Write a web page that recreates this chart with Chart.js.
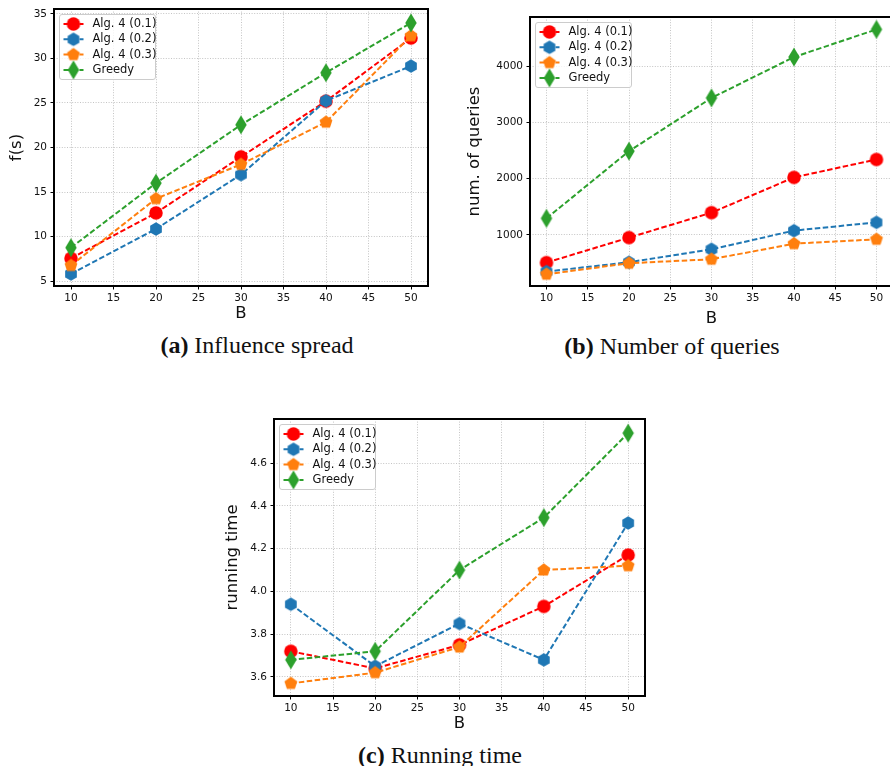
<!DOCTYPE html>
<html>
<head>
<meta charset="utf-8">
<script src="https://cdn.jsdelivr.net/npm/chart.js@4.4.0/dist/chart.umd.min.js"></script>
<style>
  html, body { margin: 0; padding: 0; background: #fff; overflow: hidden; width: 890px; height: 766px; }
  .box { position: absolute; }
  .cap { position: absolute; font-family: "Liberation Serif", serif; font-size: 24px; color: #111;
         white-space: nowrap; transform: translate(-50%, -50%); }
</style>
</head>
<body>
<div class="box" id="boxA" style="left:0px;top:0px;width:445px;height:331px"><canvas id="chartA"></canvas></div>
<div class="box" id="boxB" style="left:445px;top:0px;width:460px;height:331px"><canvas id="chartB"></canvas></div>
<div class="box" id="boxC" style="left:220px;top:400px;width:440px;height:341px"><canvas id="chartC"></canvas></div>
<div class="cap" style="left:257px;top:345px"><b>(a)</b> Influence spread</div>
<div class="cap" style="left:672px;top:346px"><b>(b)</b> Number of queries</div>
<div class="cap" style="left:440px;top:755px"><b>(c)</b> Running time</div>

<script>
// budgets on the x axis
const budgets = [10, 20, 30, 40, 50];
const xTicks = [10, 15, 20, 25, 30, 35, 40, 45, 50];
const seriesLabels = ['Alg. 4 (0.1)', 'Alg. 4 (0.2)', 'Alg. 4 (0.3)', 'Greedy'];

// (a) influence spread
const spreadAlg01 = [7.55, 12.65, 18.95, 25.2, 32.3];
const spreadAlg02 = [5.8, 10.85, 16.95, 25.25, 29.15];
const spreadAlg03 = [6.75, 14.25, 18.1, 22.85, 32.55];
const spreadGreedy = [8.75, 16.0, 22.55, 28.4, 34.0];
const spreadTicks = [5, 10, 15, 20, 25, 30, 35];
const spreadTickLabels = ['5', '10', '15', '20', '25', '30', '35'];

// (b) number of queries
const queriesAlg01 = [510, 953, 1396, 2022, 2341];
const queriesAlg02 = [350, 516, 746, 1077, 1224];
const queriesAlg03 = [303, 498, 569, 846, 923];
const queriesGreedy = [1295, 2488, 3433, 4159, 4650];
const queriesTicks = [1000, 2000, 3000, 4000];
const queriesTickLabels = ['1000', '2000', '3000', '4000'];

// (c) running time
const timeAlg01 = [3.72, 3.64, 3.75, 3.93, 4.17];
const timeAlg02 = [3.94, 3.65, 3.85, 3.68, 4.32];
const timeAlg03 = [3.57, 3.62, 3.74, 4.10, 4.12];
const timeGreedy = [3.68, 3.72, 4.10, 4.345, 4.74];
const timeTicks = [3.6, 3.8, 4.0, 4.2, 4.4, 4.6];
const timeTickLabels = ['3.6', '3.8', '4.0', '4.2', '4.4', '4.6'];

const colors = ['#ff0000', '#1f77b4', '#ff7f0e', '#2ca02c'];
const shapes = ['o', 'h', 'p', 'd'];

/**
 * Marker images (matplotlib style o / h / p / d)
 */
function makeMarker(shape, color) {
  const ms = 13.5;
  let w = ms, h = ms;
  if (shape === 'd') { h = ms * 1.414; w = h * 0.6; }
  const c = document.createElement('canvas');
  c.width = Math.ceil(w) + 2;
  c.height = Math.ceil(h) + 2;
  const g = c.getContext('2d');
  const cx = c.width / 2, cy = c.height / 2;
  g.fillStyle = color;
  g.beginPath();
  if (shape === 'o') {
    g.arc(cx, cy, ms / 2, 0, Math.PI * 2);
  } else if (shape === 'h' || shape === 'p') {
    const n = shape === 'h' ? 6 : 5;
    const r = ms / 2;
    for (let k = 0; k < n; k++) {
      const a = -Math.PI / 2 + k * 2 * Math.PI / n;
      g.lineTo(cx + r * Math.cos(a), cy + r * Math.sin(a));
    }
    g.closePath();
  } else {
    g.moveTo(cx, cy - h / 2);
    g.lineTo(cx + w / 2, cy);
    g.lineTo(cx, cy + h / 2);
    g.lineTo(cx - w / 2, cy);
    g.closePath();
  }
  g.fill();
  return c;
}
const markers = shapes.map((s, i) => makeMarker(s, colors[i]));

const tickFont = { family: 'DejaVu Sans', size: 10.5 };
const titleFont = { family: 'DejaVu Sans', size: 16.5 };

function drawLegend(ctx, area) {
  const bx = area.left + 5.5, by = area.top + 5.5, bw = 96, bh = 65;
  ctx.save();
  ctx.beginPath();
  ctx.roundRect(bx, by, bw, bh, 2.5);
  ctx.fillStyle = 'rgba(255,255,255,0.8)';
  ctx.fill();
  ctx.strokeStyle = '#cccccc';
  ctx.lineWidth = 1;
  ctx.stroke();
  seriesLabels.forEach((lab, i) => {
    const cy = by + 9.5 + i * 15.3;
    ctx.strokeStyle = colors[i];
    ctx.lineWidth = 2;
    ctx.setLineDash([5.5, 2.5]);
    ctx.beginPath();
    ctx.moveTo(bx + 4, cy);
    ctx.lineTo(bx + 24, cy);
    ctx.stroke();
    ctx.setLineDash([]);
    const m = markers[i];
    ctx.drawImage(m, bx + 14 - m.width / 2, cy - m.height / 2);
    ctx.fillStyle = '#111';
    ctx.font = '11.5px "DejaVu Sans"';
    ctx.textBaseline = 'middle';
    ctx.textAlign = 'left';
    ctx.fillText(lab, bx + 33, cy);
  });
  ctx.restore();
}

function makeChart(id, cfg) {
  const { series, yMin, yMax, yTicks, yTickLabels, yTitle, w, h, area, yTitleX, xTitleY } = cfg;
  const datasets = series.map((vals, i) => ({
    label: seriesLabels[i],
    data: budgets.map((b, j) => ({ x: b, y: vals[j] })),
    borderColor: colors[i],
    backgroundColor: colors[i],
    borderWidth: 2,
    borderDash: [5.5, 2.5],
    tension: 0,
    pointStyle: markers[i],
    pointRadius: 7,
    order: 4 - i
  }));

  const framePlugin = {
    id: 'frame',
    afterDatasetsDraw(chart) {
      const a = chart.chartArea, c = chart.ctx;
      c.save();
      c.strokeStyle = '#000';
      c.lineWidth = 2;
      c.strokeRect(a.left, a.top, a.right - a.left, a.bottom - a.top);
      c.restore();
    },
    afterDraw(chart) {
      drawLegend(chart.ctx, chart.chartArea);
    }
  };

  const grid = {
    color: '#c4c4c4',
    lineWidth: 1,
    tickColor: '#000',
    tickLength: 3.5,
    tickWidth: 1,
    tickBorderDash: []
  };
  const border = { display: false, dash: [1, 1.6] };

  return new Chart(document.getElementById(id).getContext('2d'), {
    type: 'line',
    data: { datasets },
    plugins: [framePlugin],
    options: {
      responsive: true,
      maintainAspectRatio: false,
      animation: false,
      events: [],
      layout: { padding: { left: 0, top: area.t, right: w - area.r, bottom: 0 } },
      plugins: { legend: { display: false }, tooltip: { enabled: false } },
      scales: {
        x: {
          type: 'linear',
          min: 8,
          max: 52,
          afterBuildTicks: s => { s.ticks = xTicks.map(v => ({ value: v })); },
          afterFit: s => { s.height = h - area.b; s.paddingLeft = 0; s.paddingRight = 0; },
          ticks: { font: tickFont, color: '#111', padding: 2.5, autoSkip: false, maxRotation: 0,
                   callback: (v, i) => String(xTicks[i]) },
          grid: grid,
          border: border,
          title: { display: true, text: 'B', font: titleFont, color: '#111',
                   padding: { top: 0, bottom: (h - xTitleY) - 9.9 } }
        },
        y: {
          type: 'linear',
          min: yMin,
          max: yMax,
          afterBuildTicks: s => { s.ticks = yTicks.map(v => ({ value: v })); },
          afterFit: s => { s.width = area.l; s.paddingTop = 0; s.paddingBottom = 0; },
          ticks: { font: tickFont, color: '#111', padding: 3.5,
                   callback: (v, i) => yTickLabels[i] },
          grid: grid,
          border: border,
          title: { display: true, text: yTitle, font: titleFont, color: '#111',
                   padding: { top: yTitleX - 9.9, bottom: 0 } }
        }
      }
    }
  });
}

makeChart('chartA', {
  series: [spreadAlg01, spreadAlg02, spreadAlg03, spreadGreedy],
  yMin: 4.44, yMax: 35.56, yTicks: spreadTicks, yTickLabels: spreadTickLabels, yTitle: 'f(s)',
  w: 445, h: 331, area: { l: 54, t: 6, r: 428, b: 286 }, yTitleX: 17, xTitleY: 314
});

makeChart('chartB', {
  series: [queriesAlg01, queriesAlg02, queriesAlg03, queriesGreedy],
  yMin: 94, yMax: 4870, yTicks: queriesTicks, yTickLabels: queriesTickLabels, yTitle: 'num. of queries',
  w: 460, h: 331, area: { l: 85, t: 17, r: 448, b: 286 }, yTitleX: 30, xTitleY: 319
});

makeChart('chartC', {
  series: [timeAlg01, timeAlg02, timeAlg03, timeGreedy],
  yMin: 3.511, yMax: 4.806, yTicks: timeTicks, yTickLabels: timeTickLabels, yTitle: 'running time',
  w: 440, h: 341, area: { l: 54, t: 19, r: 425, b: 296 }, yTitleX: 13, xTitleY: 324
});
</script>
</body>
</html>
